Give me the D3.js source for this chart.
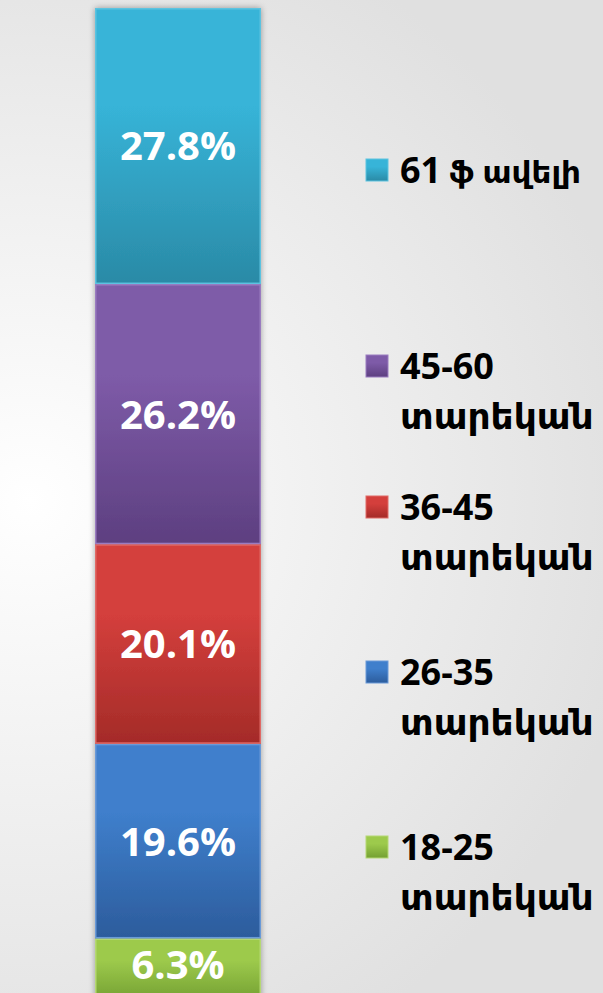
<!DOCTYPE html>
<html>
<head>
<meta charset="utf-8">
<script src="https://cdn.jsdelivr.net/npm/d3@7"></script>
<style>
  html, body { margin: 0; padding: 0; }
  body { width: 603px; height: 993px; overflow: hidden; }
</style>
</head>
<body>
<div class="wrap"></div>
<script>
// age groups, bottom of the stack first
const groups = ["18-25", "26-35", "36-45", "45-60", "61+"];
const shares = [6.3, 19.6, 20.1, 26.2, 27.8];
const legendLine1 = ["18-25", "26-35", "36-45", "45-60", "61 ֆ ավելի"];
const legendLine2 = ["տարեկան", "տարեկան", "տարեկան", "տարեկան", ""];

const topColors = ["#9dca4c", "#3f7fcc", "#d43f3c", "#7e5ba8", "#37b4d8"];
const bottomColors = ["#74a032", "#2c5c9c", "#a42b28", "#5d3f80", "#2a8aa6"];
const edgeColors = ["#b5d874", "#6a9ad8", "#e06a66", "#9a7cc0", "#5cc3e0"];

const W = 603, H = 993;
const font = "'Open Sans', 'DejaVu Sans', sans-serif";

const svg = d3.select(".wrap").append("svg")
  .attr("width", W).attr("height", H)
  .attr("viewBox", [0, 0, W, H]);

const defs = svg.append("defs");

// page background: white on the left fading to light grey
const bg = defs.append("radialGradient")
  .attr("id", "bg")
  .attr("gradientUnits", "userSpaceOnUse")
  .attr("cx", 30).attr("cy", 500).attr("r", 620);
bg.append("stop").attr("offset", 0).attr("stop-color", "#ffffff");
bg.append("stop").attr("offset", 1).attr("stop-color", "#e0e0e0");

svg.append("rect").attr("width", W).attr("height", H).attr("fill", "url(#bg)");

const shadow = defs.append("filter").attr("id", "shadow")
  .attr("x", -0.2).attr("y", -0.05).attr("width", 1.4).attr("height", 1.1);
shadow.append("feDropShadow")
  .attr("dx", 0).attr("dy", 0).attr("stdDeviation", 3)
  .attr("flood-color", "#000").attr("flood-opacity", 0.35);

groups.forEach((g, i) => {
  const lg = defs.append("linearGradient")
    .attr("id", "seg" + i)
    .attr("x1", 0).attr("y1", 0).attr("x2", 0).attr("y2", 1);
  lg.append("stop").attr("offset", 0).attr("stop-color", topColors[i]);
  lg.append("stop").attr("offset", 0.35).attr("stop-color", topColors[i]);
  lg.append("stop").attr("offset", 1).attr("stop-color", bottomColors[i]);
});

// stack the shares
const rows = [Object.fromEntries(groups.map((g, i) => [g, shares[i]]))];
const series = d3.stack().keys(groups)(rows);

const x = d3.scaleBand().domain(["all"]).range([95, 261]).padding(0);
const y = d3.scaleLinear().domain([0, 100]).range([1001, 8]);

const bar = svg.append("g").attr("filter", "url(#shadow)");
bar.selectAll("rect")
  .data(series)
  .join("rect")
  .attr("x", x("all"))
  .attr("width", x.bandwidth())
  .attr("y", d => y(d[0][1]))
  .attr("height", d => y(d[0][0]) - y(d[0][1]))
  .attr("fill", (d, i) => `url(#seg${i})`);

// thin lighter edge round each segment
svg.append("g").selectAll("rect")
  .data(series)
  .join("rect")
  .attr("x", x("all") + 0.75)
  .attr("width", x.bandwidth() - 1.5)
  .attr("y", d => y(d[0][1]) + 0.75)
  .attr("height", d => y(d[0][0]) - y(d[0][1]) - 1.5)
  .attr("fill", "none")
  .attr("stroke", (d, i) => edgeColors[i])
  .attr("stroke-width", 1.5);

svg.append("g").selectAll("text")
  .data(series)
  .join("text")
  .attr("x", x("all") + x.bandwidth() / 2)
  .attr("y", d => Math.min((y(d[0][0]) + y(d[0][1])) / 2, H - 28))
  .attr("dy", "0.36em")
  .attr("text-anchor", "middle")
  .attr("fill", "#fff")
  .style("font-family", font)
  .style("font-weight", 700)
  .style("font-size", "40px")
  .text((d, i) => shares[i].toFixed(1) + "%");

// legend, top item first
const legendTop = [170, 366, 507, 672, 847];
const legendOrder = [4, 3, 2, 1, 0];
const legend = svg.append("g");
legendOrder.forEach((gi, k) => {
  const cy = legendTop[k];
  const item = legend.append("g");
  item.append("rect")
    .attr("x", 366).attr("y", cy - 11)
    .attr("width", 22).attr("height", 22)
    .attr("fill", `url(#seg${gi})`)
    .attr("stroke", edgeColors[gi]).attr("stroke-width", 1);
  const t = item.append("text")
    .attr("x", 400).attr("y", cy).attr("dy", "0.36em")
    .style("font-family", font).style("font-weight", 700)
    .style("font-size", "36px").attr("fill", "#000");
  // numbers at full size, the armenian words a bit smaller so they fit
  const parts = legendLine1[gi].split(/ (.*)/);
  t.append("tspan").text(parts[0]);
  if (parts[1]) t.append("tspan").style("font-size", "31px").text(" " + parts[1]);
  if (legendLine2[gi]) {
    item.append("text")
      .attr("x", 400).attr("y", cy + 50).attr("dy", "0.36em")
      .style("font-family", font).style("font-weight", 700)
      .style("font-size", "36px").attr("fill", "#000")
      .text(legendLine2[gi]);
  }
});
</script>
</body>
</html>
